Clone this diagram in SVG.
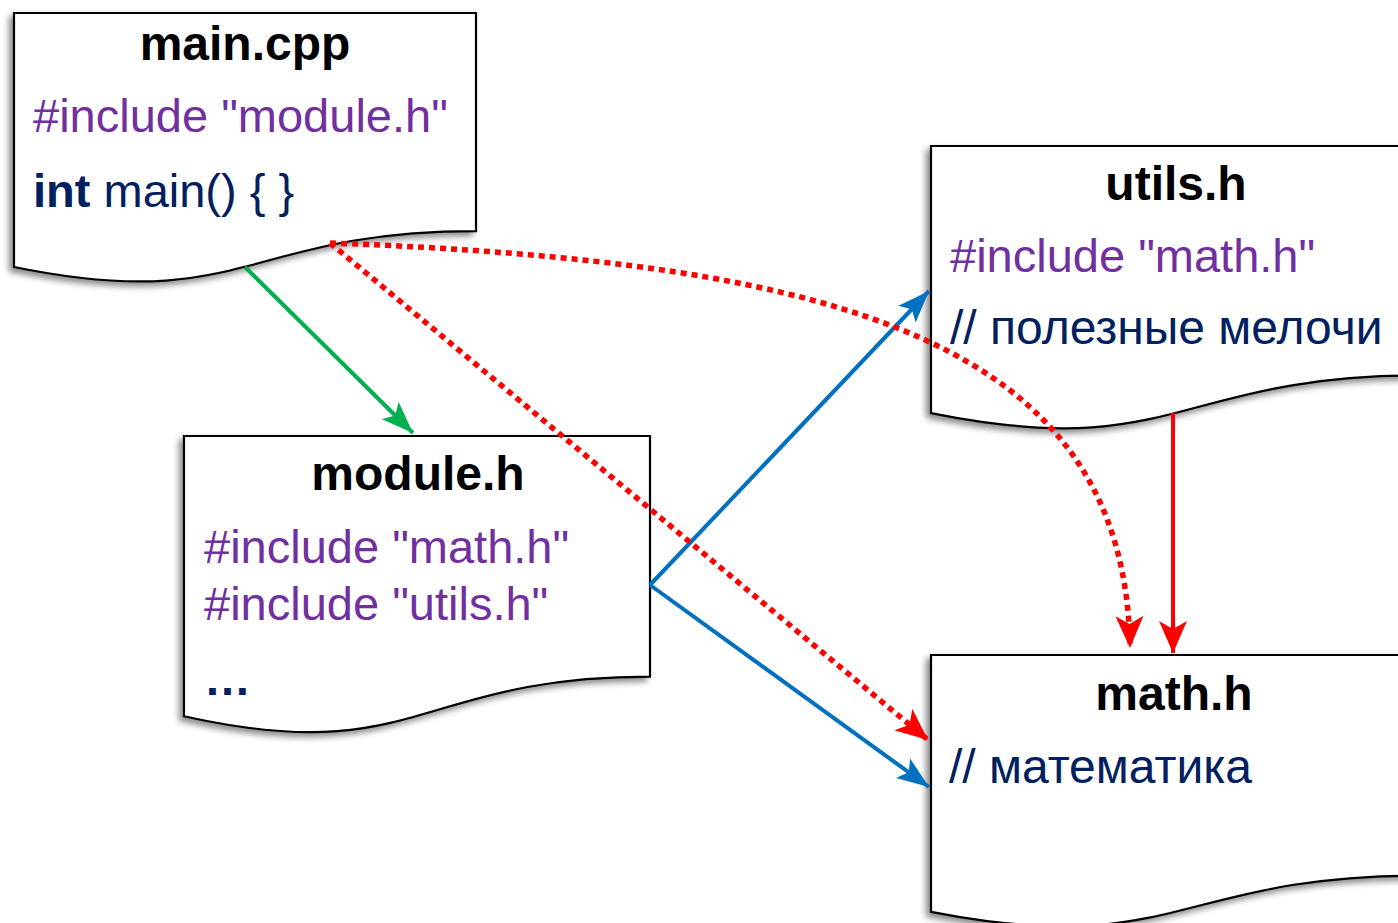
<svg xmlns="http://www.w3.org/2000/svg" width="1398" height="923" viewBox="0 0 1398 923">
<defs>
<style>
.doc{fill:#fff;stroke:#000;stroke-width:2.2;filter:url(#sh)}
.t{font-family:"Liberation Sans",Arial,sans-serif;font-size:48px;font-weight:bold;fill:#000;text-anchor:middle}
.c{font-family:"Liberation Sans",Arial,sans-serif;font-size:47px;fill:#7030A0}
.n{font-family:"Liberation Sans",Arial,sans-serif;font-size:47px;fill:#002060}
.b{font-weight:bold}
.ln{fill:none;stroke-width:4}
.g{stroke:#00B050;marker-end:url(#ag)}
.bl{stroke:#0070C0;marker-end:url(#ab)}
.r{stroke:#FF0000;marker-end:url(#ar)}
.rd{fill:none;stroke:#FF0000;stroke-width:5.5;stroke-dasharray:6 5;marker-end:url(#ar)}
</style>
<filter id="sh" x="-10%" y="-10%" width="125%" height="130%">
<feDropShadow dx="-4" dy="4" stdDeviation="3" flood-color="#000" flood-opacity="0.45"/>
</filter>
<marker id="ag" viewBox="0 0 32 24" refX="32" refY="12" markerWidth="32" markerHeight="24" markerUnits="userSpaceOnUse" orient="auto"><path d="M0,0 L32,12 L0,24 L7,12 Z" fill="#00B050"/></marker>
<marker id="ab" viewBox="0 0 32 24" refX="32" refY="12" markerWidth="32" markerHeight="24" markerUnits="userSpaceOnUse" orient="auto"><path d="M0,0 L32,12 L0,24 L7,12 Z" fill="#0070C0"/></marker>
<marker id="ar" viewBox="0 0 32 28" refX="32" refY="14" markerWidth="32" markerHeight="28" markerUnits="userSpaceOnUse" orient="auto"><path d="M0,0 L32,14 L0,28 L8,14 Z" fill="#FF0000"/></marker>
</defs>
<g id="main-cpp">
<path class="doc" d="M14,13 H476 V231.1 C245,231.1 245,314.2 14,267 Z"/>
<text class="t" x="245" y="60">main.cpp</text>
<text class="c" x="33" y="132">#include "module.h"</text>
<text class="n" x="33" y="207"><tspan class="b">int</tspan> main() { }</text>
</g>
<g id="module-h">
<path class="doc" d="M184,436 H650 V676.6 C417,676.6 417,768.3 184,716.2 Z"/>
<text class="t" x="418" y="490">module.h</text>
<text class="c" x="204" y="563">#include "math.h"</text>
<text class="c" x="204" y="620">#include "utils.h"</text>
<text class="n b" x="204" y="695">…</text>
</g>
<g id="utils-h">
<path class="doc" d="M931,146 H1421 V375.4 C1176,375.4 1176,462.7 931,413.1 Z"/>
<text class="t" x="1176" y="200">utils.h</text>
<text class="c" x="950" y="272">#include "math.h"</text>
<text class="n" x="950" y="344" style="font-size:48px">// полезные мелочи</text>
</g>
<g id="math-h">
<path class="doc" d="M931,655 H1421 V875.5 C1176,875.5 1176,959.6 931,911.8 Z"/>
<text class="t" x="1174" y="710">math.h</text>
<text class="n" x="949" y="783" style="font-size:48px">// математика</text>
</g>
<g id="connectors">
<path class="ln g" d="M245,267 L413,433"/>
<path class="ln bl" d="M650,585 L929,291"/>
<path class="ln bl" d="M650,585 L929,787"/>
<path class="ln r" d="M1173,413 L1173,653"/>
<path class="rd" d="M330,243 L928,740"/>
<path class="rd" d="M330,243 C850,262 1125,345 1130,648"/>
</g>
</svg>
